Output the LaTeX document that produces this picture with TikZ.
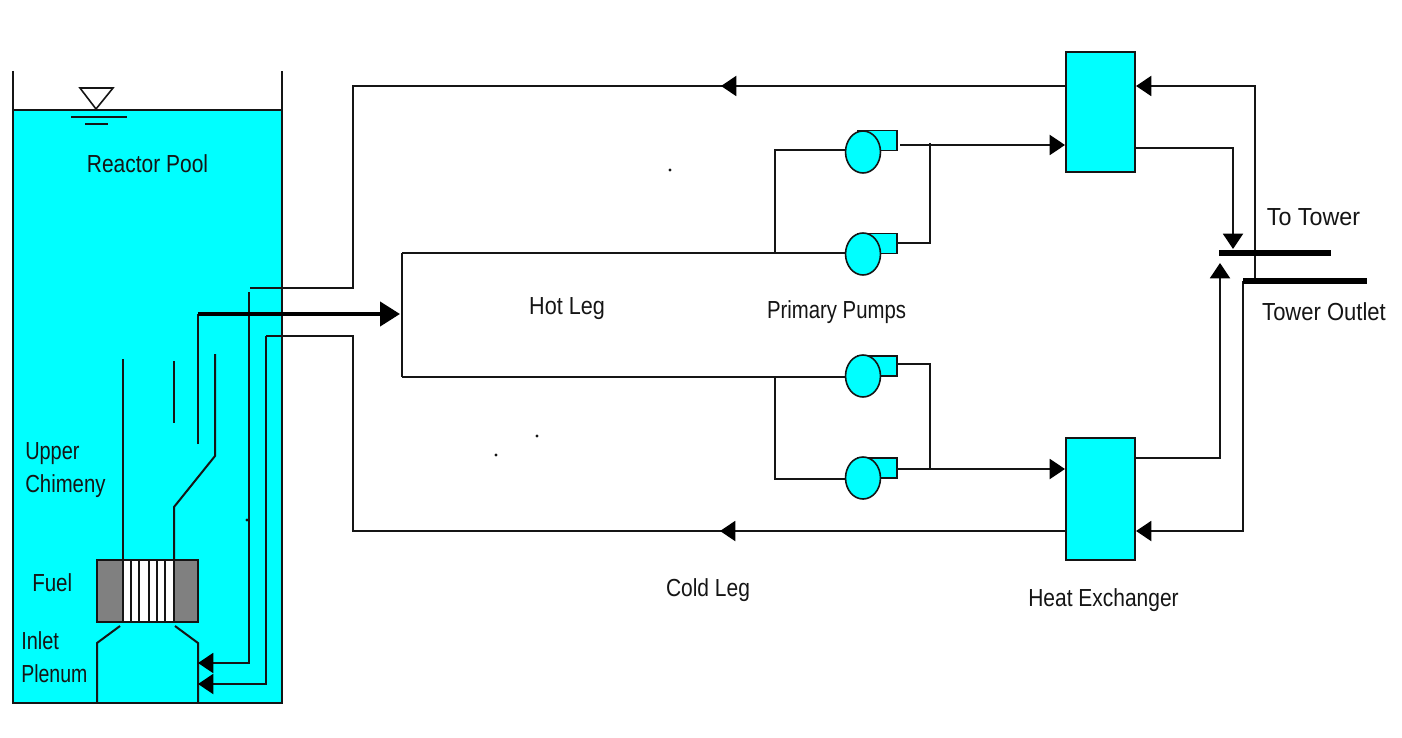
\documentclass[tikz,border=0pt]{standalone}
\usepackage{fontspec}
\setmainfont[FakeStretch=0.85]{Liberation Sans}
\usetikzlibrary{arrows.meta,shapes.geometric}
\definecolor{pool}{HTML}{00FFFF}
\definecolor{fuelgray}{HTML}{808080}
\definecolor{ink}{HTML}{151515}
\tikzset{
  pipe/.style={draw=ink,line width=1.5pt,line join=miter},
  thickpipe/.style={draw=black,line width=3.2pt},
  tubeline/.style={draw=ink,line width=1.5pt},
  tipm/.style={-{Triangle[length=11.5pt,width=15pt,color=black,fill=black]}},
  tipl/.style={-{Triangle[length=15pt,width=18pt,color=black,fill=black]}},
  hxbox/.style={draw=ink,line width=1.5pt,fill=pool,minimum width=51.75pt,minimum height=90pt,inner sep=0pt},
  hxboxb/.style={hxbox,minimum height=91.5pt},
  pumpbody/.style={ellipse,draw=ink,line width=1.2pt,fill=pool,minimum width=26.2pt,minimum height=31.5pt,inner sep=0pt},
  pumpcase/.style={draw=ink,line width=1.2pt,fill=pool,minimum width=29pt,minimum height=15pt,inner sep=0pt},
  lbl/.style={font=\fontsize{18.5pt}{20pt}\selectfont,text=ink,inner sep=0pt},
  lbll/.style={lbl,anchor=west},
  speck/.style={circle,fill=ink,minimum size=2.4pt,inner sep=0pt}
}
\begin{document}
\begin{tikzpicture}[x=0.75pt,y=-0.75pt]
\useasboundingbox (0,0) rectangle (1402,738);
\fill[white] (0,0) rectangle (1402,738);
% pool
\fill[pool] (13,110) rectangle (282,703);
\draw[pipe] (13,71) -- (13,703) -- (282,703) -- (282,71);
\draw[pipe] (13,110) -- (282,110);
\draw[pipe,line width=1.2pt,fill=white] (80,88) -- (113,88) -- (96,109) -- cycle;
\draw[pipe] (71,117) -- (127,117);
\draw[pipe] (85,124) -- (108,124);
% fuel
\fill[fuelgray] (97,560) rectangle (198,622);
\fill[white] (123,560) rectangle (174,622);
\draw[pipe] (97,560) rectangle (198,622);
\foreach \x in {123,131,139,149,157,165,174} \draw[tubeline] (\x,560) -- (\x,622);
% chimney
\draw[pipe] (123,359) -- (123,560);
\draw[pipe] (174,560) -- (174,507) -- (215,456) -- (215,354);
\draw[pipe] (174,361) -- (174,423);
% plenum
\draw[pipe] (97,703) -- (97,643) -- (120,626);
\draw[pipe] (198,703) -- (198,643) -- (175,626);
% equipment
\node[hxbox]  (hxa) at (1100.5,112) {};
\node[hxboxb] (hxb) at (1100.5,499) {};
\coordinate (core)  at (198,314);
\coordinate (coreb) at (198,444);
\coordinate (hot)   at (400,314);
\coordinate (hotT)  at (402,253);
\coordinate (hotB)  at (402,377);
\coordinate (sa) at (775,253);
\coordinate (sb) at (775,150);
\coordinate (sc) at (775,377);
\coordinate (sd) at (775,479);
\coordinate (oa) at (930,143);
\coordinate (ob) at (930,243);
\coordinate (oc) at (930,364);
\coordinate (od) at (930,469);
% pipes into pumps
\draw[pipe] (hotT) -- (hotB);
\draw[pipe] (hotT) -- (846,253);
\draw[pipe] (hotB) -- (846,377);
\draw[pipe] (sa) -- (sb) -- (846,150);
\draw[pipe] (sc) -- (sd) -- (846,479);
% pumps
\node[pumpcase] (ca) at (877.5,140.5) {};
\node[pumpcase] (cb) at (877.5,243.5) {};
\node[pumpcase] (cc) at (877.5,366) {};
\node[pumpcase] (cd) at (877.5,468) {};
\node[pumpbody] (pa) at (863,152) {};
\node[pumpbody] (pb) at (863,254) {};
\node[pumpbody] (pc) at (863,376) {};
\node[pumpbody] (pd) at (863,478) {};
% pump outlets
\draw[pipe,tipm] (900,145) -- (hxa.west |- 0,145);
\draw[pipe] (oa) -- (ob) -- (cb.east |- ob);
\draw[pipe] (cc.east |- oc) -- (oc) -- (od);
\draw[pipe,tipm] (cd.east |- od) -- (hxb.west |- od);
% core loop: outlet and returns
\coordinate (ta) at (250,288);
\coordinate (tb) at (353,288);
\coordinate (tc) at (353,86);
\coordinate (ra) at (266,336);
\coordinate (rb) at (353,336);
\coordinate (rc) at (353,531);
\coordinate (ma) at (721,86);
\coordinate (mb) at (720,531);
\draw[pipe] (ta) -- (tb) -- (tc) -- (hxa.west |- tc);
\draw[pipe,tipm] (hxa.west |- ma) -- (ma);
\draw[pipe] (ra) -- (rb) -- (rc) -- (hxb.west |- rc);
\draw[pipe,tipm] (hxb.west |- mb) -- (mb);
\draw[pipe,tipm] (249,292) -- (249,663) -- (198,663);
\draw[pipe,tipm] (ra) -- (266,684) -- (198,684);
\draw[pipe] (coreb) -- (core);
\draw[thickpipe,tipl] (core) -- (hot);
% tower side
\coordinate (tt) at (1219,253);
\coordinate (te) at (1331,253);
\coordinate (ot) at (1243,281);
\coordinate (oe) at (1367,281);
\draw[pipe,tipm] (1255,281) -- (1255,86) -- (hxa.east |- 0,86);
\draw[pipe,tipm] (ot) -- (1243,531) -- (hxb.east |- 0,531);
\draw[pipe,tipm] (hxa.east |- 0,148) -- (1233,148) -- (1233,249);
\draw[pipe,tipm] (hxb.east |- 0,458) -- (1220,458) -- (1220,263);
\draw[line width=4.2pt,draw=black] (tt) -- (te);
\draw[line width=4.2pt,draw=black] (ot) -- (oe);
% specks
\node[speck] (d1) at (670,170) {};
\node[speck] (d2) at (537,436) {};
\node[speck] (d3) at (496,455) {};
\node[speck] (d4) at (247,520) {};
% labels
\node[lbl] (t1) at (147.5,164) {Reactor Pool};
\node[lbl] (t2) at (567,308.5) {\scalebox{1.03}[1]{Hot Leg}};
\node[lbl] (t3) at (836.5,312) {\scalebox{.97}[1]{Primary Pumps}};
\node[lbl] (t4) at (1313.5,217) {\scalebox{1.11}[1]{To Tower}};
\node[lbl] (t5) at (1324,312) {\scalebox{1.05}[1]{Tower Outlet}};
\node[lbl] (t6) at (708,590) {Cold Leg};
\node[lbl] (t7) at (1103.5,600) {Heat Exchanger};
\node[lbll] (t8) at (25,453.5) {\scalebox{.95}[1]{Upper}};
\node[lbll] (t9) at (25,486.5) {\scalebox{.97}[1]{Chimeny}};
\node[lbll] (t10) at (32,583) {\scalebox{.98}[1]{Fuel}};
\node[lbll] (t11) at (21,641) {\scalebox{.95}[1]{Inlet}};
\node[lbll] (t12) at (21,674) {\scalebox{.93}[1]{Plenum}};
\end{tikzpicture}
\end{document}
